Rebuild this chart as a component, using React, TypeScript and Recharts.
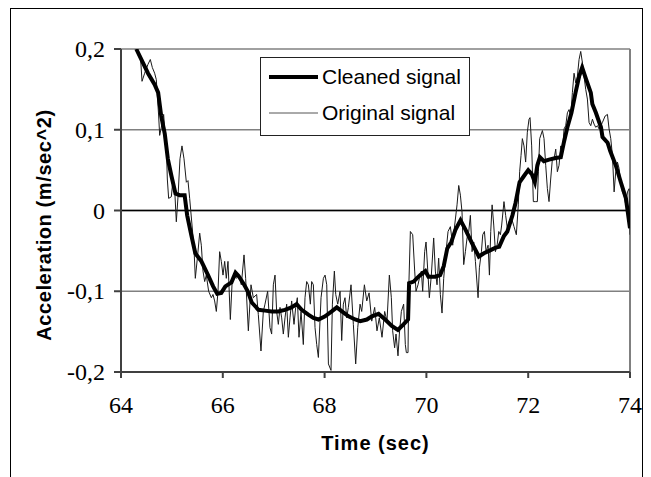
import React from "react";
import {
  LineChart,
  Line,
  XAxis,
  YAxis,
  CartesianGrid,
  ReferenceLine,
} from "recharts";

// time axis ticks (sec) and acceleration ticks (m/sec^2)
const timeTicks = [64, 66, 68, 70, 72, 74];
const accTicks = [-0.2, -0.1, 0, 0.1, 0.2];

// original (noisy) signal
const originalTime = [
  64.334, 64.386, 64.413, 64.465, 64.53, 64.576, 64.616, 64.661, 64.694, 64.74,
  64.76, 64.792, 64.838, 64.858, 64.891, 64.91, 64.936, 64.989, 65.022, 65.054,
  65.087, 65.12, 65.159, 65.198, 65.238, 65.284, 65.316, 65.349, 65.395, 65.434,
  65.46, 65.5, 65.546, 65.578, 65.611, 65.644, 65.676, 65.722, 65.775, 65.807,
  65.84, 65.873, 65.906, 65.938, 65.971, 66.004, 66.037, 66.069, 66.102, 66.148,
  66.181, 66.22, 66.266, 66.312, 66.364, 66.417, 66.449,
  66.502, 66.554, 66.6, 66.665, 66.698, 66.75, 66.796, 66.829, 66.881, 66.927,
  66.96, 66.993, 67.026, 67.058, 67.091, 67.124, 67.157, 67.189, 67.222, 67.255,
  67.288, 67.32, 67.353, 67.399, 67.432, 67.464, 67.497, 67.537, 67.582, 67.615,
  67.648, 67.681, 67.72, 67.746, 67.779, 67.812, 67.845, 67.878, 67.93, 67.976,
  68.009, 68.042, 68.075, 68.126, 68.153, 68.192, 68.219, 68.258, 68.304, 68.336,
  68.368, 68.401, 68.434, 68.467, 68.519, 68.565, 68.611, 68.651, 68.697, 68.729,
  68.782, 68.828, 68.874, 68.926,
  68.984, 69.029, 69.075, 69.128, 69.18, 69.226, 69.272, 69.311, 69.337, 69.376,
  69.403, 69.442, 69.469, 69.508, 69.553, 69.586, 69.606, 69.639, 69.652, 69.685,
  69.731, 69.77, 69.796, 69.835, 69.862, 69.901, 69.927, 69.966, 69.993, 70.032,
  70.058, 70.097, 70.143, 70.176, 70.209, 70.241, 70.274, 70.307, 70.34, 70.373,
  70.425, 70.471, 70.517, 70.556, 70.602, 70.635, 70.668, 70.7, 70.733, 70.766,
  70.799, 70.832, 70.864, 70.897, 70.93, 70.963, 71.015, 71.041, 71.081, 71.107,
  71.14, 71.172, 71.212, 71.238, 71.264, 71.291, 71.323, 71.356, 71.389, 71.422,
  71.454,
  71.479, 71.524, 71.557, 71.59, 71.623, 71.675, 71.721, 71.767, 71.806, 71.832,
  71.859, 71.885, 71.917, 71.95, 71.983, 72.016, 72.036, 72.068, 72.101, 72.147,
  72.18, 72.2, 72.226, 72.279, 72.311, 72.344, 72.377, 72.409, 72.442, 72.475,
  72.508, 72.541, 72.573, 72.606, 72.639, 72.672, 72.704, 72.737, 72.77, 72.803,
  72.836, 72.868, 72.901, 72.934, 72.966, 72.999, 73.032, 73.065, 73.098, 73.13,
  73.163, 73.196, 73.229, 73.262, 73.294, 73.327, 73.36, 73.393, 73.425, 73.458,
  73.511, 73.557, 73.589, 73.622, 73.655, 73.688, 73.72, 73.753, 73.786, 73.819,
  73.851, 73.884, 73.917, 73.95, 73.982, 74.0,
];
const originalAcc = [
  0.198, 0.187, 0.16, 0.17, 0.181, 0.187, 0.177, 0.17, 0.162, 0.117,
  0.093, 0.103, 0.119, 0.101, 0.08, 0.039, 0.015, 0.017, 0.039, 0.027,
  -0.014, 0.017, 0.064, 0.08, 0.064, 0.035, 0.037, 0.015, -0.018, -0.047,
  -0.084, -0.059, -0.028, -0.043, -0.075, -0.088, -0.08, -0.1, -0.108, -0.104,
  -0.112, -0.125, -0.1, -0.051, -0.063, -0.08, -0.063, -0.084, -0.063, -0.135,
  -0.092, -0.08, -0.084, -0.08, -0.092, -0.055, -0.084,
  -0.149, -0.092, -0.108, -0.104, -0.129, -0.174, -0.125, -0.116, -0.1, -0.145,
  -0.153, -0.092, -0.08, -0.125, -0.141, -0.12, -0.133, -0.153, -0.133, -0.116,
  -0.157, -0.133, -0.112, -0.141, -0.12, -0.108, -0.157, -0.125, -0.166, -0.108,
  -0.088, -0.092, -0.116, -0.088, -0.092, -0.145, -0.166, -0.182, -0.108, -0.084,
  -0.08, -0.092, -0.19, -0.198, -0.116, -0.075, -0.104, -0.116, -0.1, -0.161,
  -0.116, -0.108, -0.133, -0.12, -0.092, -0.141, -0.19, -0.145, -0.116, -0.125,
  -0.092, -0.112, -0.102, -0.137,
  -0.12, -0.149, -0.133, -0.157, -0.125, -0.137, -0.08, -0.108, -0.149, -0.17,
  -0.153, -0.18, -0.153, -0.125, -0.116, -0.166, -0.176, -0.176, -0.1, -0.026,
  -0.03, -0.075, -0.1, -0.092, -0.084, -0.075, -0.1, -0.051, -0.039, -0.08,
  -0.108, -0.08, -0.034, -0.075, -0.092, -0.059, -0.104, -0.127, -0.084, -0.059,
  -0.026, -0.02, -0.043, -0.018, 0.007, 0.031, 0.019, -0.002, -0.067, -0.051,
  -0.034, -0.026, -0.006, -0.051, -0.039, -0.063, -0.108, -0.071, -0.051, -0.03,
  -0.026, -0.051, -0.043, -0.08, -0.026, 0.007, -0.018, -0.051, -0.043, -0.026,
  -0.03,
  -0.018, 0.011, -0.006, -0.022, -0.014, -0.01, -0.02, -0.03, 0.007, 0.048,
  0.068, 0.089, 0.08, 0.06, 0.097, 0.113, 0.115, 0.08, 0.011, 0.011,
  0.011, 0.048, 0.089, 0.099, 0.089, 0.056, 0.027, 0.011, 0.039, 0.064,
  0.064, 0.076, 0.048, 0.056, 0.08, 0.072, 0.101, 0.105, 0.121, 0.125,
  0.117, 0.146, 0.17, 0.158, 0.166, 0.187, 0.197, 0.183, 0.166, 0.15,
  0.138, 0.109, 0.105, 0.113, 0.107, 0.103, 0.105, 0.101, 0.105, 0.109,
  0.117, 0.119, 0.101, 0.089, 0.068, 0.023, 0.048, 0.06, 0.052, 0.035,
  0.023, 0.019, 0.007, 0.023, 0.027, -0.03,
];

// cleaned (smoothed) signal
const cleanedTime = [
  64.3, 64.53, 64.66, 64.73, 64.79, 64.86, 64.92, 64.99, 65.07, 65.15,
  65.25, 65.3, 65.38, 65.46, 65.58, 65.71, 65.81, 65.89, 65.97, 66.05,
  66.17, 66.25, 66.31, 66.42, 66.49, 66.57, 66.7, 66.83, 66.96, 67.09,
  67.22, 67.35, 67.45, 67.55, 67.68, 67.78, 67.88, 68.01, 68.14, 68.24,
  68.34, 68.47, 68.6, 68.7, 68.83, 68.93, 69.06, 69.19, 69.32, 69.44,
  69.55, 69.64, 69.66, 69.75, 69.81, 69.88, 69.98, 70.04, 70.17, 70.27,
  70.34, 70.41, 70.49, 70.57, 70.67, 70.77, 70.9, 71.03, 71.13, 71.23,
  71.36, 71.43, 71.52, 71.59, 71.69, 71.75, 71.83, 71.92, 72.0, 72.07,
  72.13, 72.18, 72.23, 72.31, 72.41, 72.54, 72.64, 72.7, 72.77, 72.85,
  72.93, 73.0, 73.06, 73.14, 73.23, 73.26, 73.33, 73.43, 73.46, 73.56,
  73.61, 73.72, 73.82, 73.92, 74.0,
];
const cleanedAcc = [
  0.2, 0.17, 0.156, 0.146, 0.117, 0.095, 0.064, 0.043, 0.021, 0.019,
  0.019, -0.006, -0.03, -0.053, -0.063, -0.08, -0.094, -0.103, -0.102, -0.094,
  -0.089, -0.077, -0.081, -0.092, -0.1, -0.114, -0.123, -0.124, -0.125, -0.125,
  -0.123, -0.12, -0.116, -0.123, -0.129, -0.133, -0.135, -0.131, -0.125, -0.12,
  -0.125, -0.131, -0.135, -0.137, -0.135, -0.131, -0.128, -0.135, -0.143, -0.148,
  -0.141, -0.135, -0.09, -0.088, -0.084, -0.08, -0.075, -0.082, -0.082, -0.08,
  -0.069, -0.047, -0.039, -0.024, -0.012, -0.024, -0.041, -0.057, -0.053, -0.05,
  -0.046, -0.045, -0.032, -0.026, -0.006, 0.009, 0.035, 0.043, 0.05, 0.045,
  0.035, 0.056, 0.066, 0.061, 0.063, 0.065, 0.066, 0.084, 0.103, 0.121,
  0.146, 0.166, 0.177, 0.162, 0.146, 0.132, 0.121, 0.103, 0.091, 0.084,
  0.074, 0.056, 0.035, 0.015, -0.022,
];

const originalData = originalTime.map((t, i) => ({ t, v: originalAcc[i] }));
const cleanedData = cleanedTime.map((t, i) => ({ t, v: cleanedAcc[i] }));

function formatAcc(v: number) {
  if (v === 0) return "0";
  return v.toFixed(1).replace(".", ",");
}

const sans = "'Liberation Sans', Arial, sans-serif";
const serif = "'Liberation Serif', 'Times New Roman', serif";

function TimeTick(props: any) {
  const { x, y, payload } = props;
  return (
    <text x={x} y={y + 16} textAnchor="middle" fontSize={24} fill="#000" fontFamily={serif} style={{ fontFamily: serif }}>
      {payload.value}
    </text>
  );
}

function AccTick(props: any) {
  const { x, y, payload } = props;
  return (
    <text x={x} y={y + 8} textAnchor="end" fontSize={24} fill="#000" fontFamily={serif} style={{ fontFamily: serif }}>
      {formatAcc(payload.value)}
    </text>
  );
}

function AccTitle() {
  return (
    <text
      x={44}
      y={225}
      transform="rotate(-90, 44, 225)"
      textAnchor="middle"
      dominantBaseline="central"
      fontSize={20}
      fontWeight="bold"
      fill="#000"
      letterSpacing={0.6}
      style={{ fontFamily: sans }}
    >
      Acceleration (m/sec^2)
    </text>
  );
}

function LegendBox() {
  return (
    <svg width={210} height={79} style={{ display: "block" }}>
      <rect x={0.5} y={0.5} width={209} height={78} fill="#fff" stroke="#222" />
      <line x1={9} x2={58} y1={20} y2={20} stroke="#000" strokeWidth={4} />
      <text x={62} y={27} fontSize={21} fill="#000" style={{ fontFamily: sans }}>
        Cleaned signal
      </text>
      <line x1={9} x2={58} y1={56} y2={56} stroke="#555" strokeWidth={1} />
      <text x={62} y={63} fontSize={21} fill="#000" style={{ fontFamily: sans }}>
        Original signal
      </text>
    </svg>
  );
}

export default function App() {
  return (
    <div style={{ position: "absolute", left: 0, top: 0, width: 651, height: 477, background: "#fff", overflow: "hidden" }}>
      <div style={{ position: "absolute", left: 10, top: 8, width: 631, height: 500, border: "1px solid #000" }} />
      <div style={{ position: "absolute", left: 0, top: 0 }}>
        <LineChart width={651} height={477} margin={{ top: 49, right: 21, left: 61, bottom: 25 }}>
          <CartesianGrid vertical={false} stroke="#808080" strokeWidth={1.5} />
          <XAxis
            type="number"
            dataKey="t"
            domain={[64, 74]}
            ticks={timeTicks}
            allowDataOverflow
            height={80}
            stroke="#404040"
            strokeWidth={2}
            tickSize={6}
            tickMargin={19}
            tick={<TimeTick />}
            label={{
              value: "Time (sec)",
              position: "insideBottom",
              offset: 2,
              fontSize: 20,
              fontWeight: "bold",
              fill: "#000",
              letterSpacing: 1,
              style: { fontFamily: sans },
            }}
          />
          <YAxis
            type="number"
            dataKey="v"
            domain={[-0.2, 0.2]}
            ticks={accTicks}
            allowDataOverflow
            width={60}
            stroke="#404040"
            strokeWidth={2}
            tickSize={7}
            tickMargin={9}
            tick={<AccTick />}
            label={<AccTitle />}
          />
          <ReferenceLine y={0} stroke="#000" strokeWidth={1.5} />
          <ReferenceLine x={74} stroke="#808080" strokeWidth={2} />
          <Line
            data={originalData}
            dataKey="v"
            stroke="#1a1a1a"
            strokeWidth={1}
            dot={false}
            isAnimationActive={false}
            name="Original signal"
          />
          <Line
            data={cleanedData}
            dataKey="v"
            stroke="#000"
            strokeWidth={4}
            dot={false}
            isAnimationActive={false}
            name="Cleaned signal"
          />
        </LineChart>
      </div>
      <div style={{ position: "absolute", left: 260, top: 57 }}>
        <LegendBox />
      </div>
    </div>
  );
}
